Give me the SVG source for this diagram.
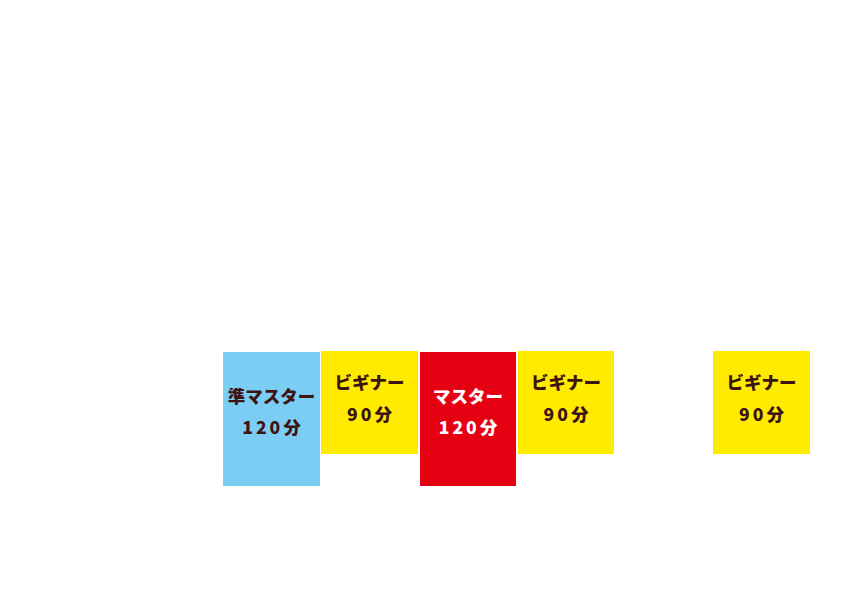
<svg xmlns="http://www.w3.org/2000/svg" width="842" height="595" viewBox="0 0 842 595">
<style>
text{font-family:"Noto Sans CJK JP","Noto Sans CJK SC",sans-serif;font-weight:900;font-size:17.5px;text-anchor:middle}
.d{fill:#3d1414}
.w{fill:#ffffff}
.n{letter-spacing:3px}
.y{fill:#ffeb00}
</style>
<rect width="842" height="595" fill="#ffffff"/>
<g id="node-jun-master">
<rect x="223" y="352" width="97" height="134" fill="#7ccdf4"/>
<text class="d" x="271.5" y="403">準マスター</text>
<text class="d n" x="273" y="434">120分</text>
</g>
<g id="node-beginner-1">
<rect class="y" x="321" y="351" width="97" height="103"/>
<text class="d" x="369.5" y="389">ビギナー</text>
<text class="d n" x="371" y="421">90分</text>
</g>
<g id="node-master">
<rect x="420" y="352" width="96" height="134" fill="#e50012"/>
<text class="w" x="468" y="403">マスター</text>
<text class="w n" x="469.5" y="434">120分</text>
</g>
<g id="node-beginner-2">
<rect class="y" x="518" y="351" width="96" height="103"/>
<text class="d" x="566" y="389">ビギナー</text>
<text class="d n" x="567.5" y="421">90分</text>
</g>
<g id="node-beginner-3">
<rect class="y" x="713" y="351" width="97" height="103"/>
<text class="d" x="761.5" y="389">ビギナー</text>
<text class="d n" x="763" y="421">90分</text>
</g>
<g id="connectors"></g>
</svg>
